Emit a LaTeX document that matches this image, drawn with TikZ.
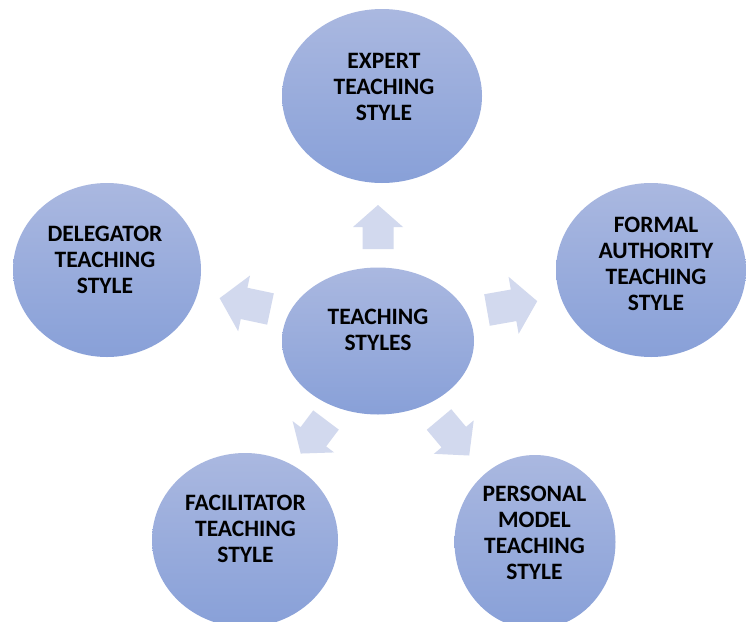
\documentclass[tikz,border=0pt]{standalone}
\usepackage{fontspec}
\setmainfont{Carlito}
\usetikzlibrary{shapes.geometric}
\definecolor{elltop}{RGB}{170,184,224}
\definecolor{ellbot}{RGB}{136,160,216}
\definecolor{arrowcol}{RGB}{210,217,238}
\tikzset{
  ell/.style={ellipse, inner sep=0pt, top color=elltop, bottom color=ellbot, draw=none},
  txt/.style={align=center, inner sep=0pt, font=\fontsize{23.5}{26}\selectfont\bfseries, text=black},
  blockarrow/.style={fill=arrowcol, draw=none}
}
% #1 x, #2 y (back middle), #3 angle, #4 length, #5 head length, #6 shaft width, #7 head width
\newcommand{\blockarr}[7]{%
  \fill[blockarrow, shift={(#1,#2)}, rotate=#3]
    (0,-#6/2) -- ({#4-#5},-#6/2) -- ({#4-#5},-#7/2) -- (#4,0) --
    ({#4-#5},#7/2) -- ({#4-#5},#6/2) -- (0,#6/2) -- cycle;}
\begin{document}
\begin{tikzpicture}[x=1pt,y=-1pt]
\useasboundingbox (0,0) rectangle (746,621);
\clip (0,0) rectangle (746,621);
\fill[white] (0,0) rectangle (746,621);
% ellipses
\node[ell, minimum width=192pt, minimum height=147pt] (center) at (378,341) {};
\node[ell, minimum width=200pt, minimum height=174pt] (expert) at (382,96) {};
\node[ell, minimum width=190pt, minimum height=174pt] (formal) at (651,270) {};
\node[ell, minimum width=188pt, minimum height=174pt] (delegator) at (107,270) {};
\node[ell, minimum width=186pt, minimum height=174pt] (facilitator) at (245,540) {};
\node[ell, minimum width=161pt, minimum height=174pt] (personal) at (535,542) {};
% texts
\node[txt] (centert) at (378,330) {TEACHING\\STYLES};
\node[txt] (expertt) at (384,87) {EXPERT\\TEACHING\\STYLE};
\node[txt] (formalt) at (656,263.5) {FORMAL\\AUTHORITY\\TEACHING\\STYLE};
\node[txt] (delegatort) at (105,260) {DELEGATOR\\TEACHING\\STYLE};
\node[txt] (facilitatort) at (245.5,529) {FACILITATOR\\TEACHING\\STYLE};
\node[txt] (personalt) at (534.5,532.5) {PERSONAL\\MODEL\\TEACHING\\STYLE};
% block arrows
\blockarr{378}{249}{90}{44}{22}{31}{50}
\blockarr{487}{310}{10}{51}{24}{32}{58}
\blockarr{270.5}{309}{168}{52}{25}{32}{57}
\blockarr{326}{420}{233}{42}{21}{32}{52}
\blockarr{439}{419.5}{-50}{47}{24}{32}{52}
\end{tikzpicture}
\end{document}
